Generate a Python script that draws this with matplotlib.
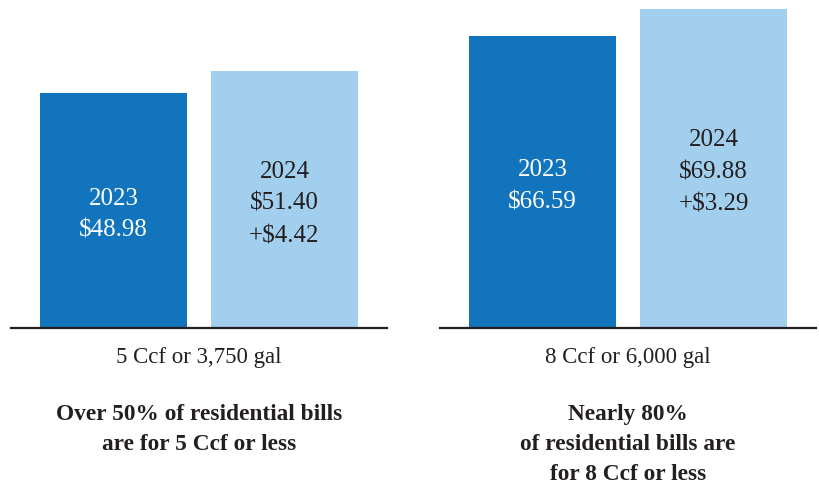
import matplotlib
matplotlib.use("Agg")
import matplotlib.pyplot as plt

# ---- data ----
years = ["2023", "2024"]
usage_labels = ["5 Ccf or 3,750 gal", "8 Ccf or 6,000 gal"]
bills_5ccf = [48.98, 51.40]
bills_8ccf = [66.59, 69.88]
increase = ["+$4.42", "+$3.29"]
notes = ["Over 50% of residential bills\nare for 5 Ccf or less",
         "Nearly 80%\nof residential bills are\nfor 8 Ccf or less"]

DARK = "#1174bc"
LIGHT = "#a3cfef"
INK = "#231f20"
FONT = ["Liberation Serif", "DejaVu Serif"]

W, H = 820, 484
fig = plt.figure(figsize=(W / 100, H / 100), dpi=100)

def px_axes(x0, x1, ytop, ybot):
    return fig.add_axes([x0 / W, 1 - ybot / H, (x1 - x0) / W, (ybot - ytop) / H])

groups = [
    (bills_5ccf, increase[0], (11, 387), (23.16, 59.21), usage_labels[0], notes[0]),
    (bills_8ccf, increase[1], (440, 816), (31.02, 70.93), usage_labels[1], notes[1]),
]

for vals, inc, (x0, x1), ylim, ulabel, note in groups:
    ax = px_axes(x0, x1, 0, 327.7)
    ax.set_xlim(-0.6, 1.6)
    ax.set_ylim(*ylim)
    ax.bar([0, 1], vals, width=0.86, color=[DARK, LIGHT], bottom=0)
    for s in ["top", "left", "right"]:
        ax.spines[s].set_visible(False)
    ax.spines["bottom"].set_color(INK)
    ax.spines["bottom"].set_linewidth(1.6)
    ax.spines["bottom"].set_zorder(5)
    ax.set_xticks([])
    ax.set_yticks([])
    ax.patch.set_visible(False)
    # pixel-to-data factor for small downward nudge of labels
    k = (ylim[1] - ylim[0]) / 327.7
    mid0 = (ylim[0] + vals[0]) / 2 - 4.5 * k
    mid1 = (ylim[0] + vals[1]) / 2 - 4.5 * k
    ax.text(0, mid0, f"{years[0]}\n${vals[0]:.2f}", ha="center", va="center",
            color="white", fontsize=18, family=FONT, linespacing=1.6)
    ax.text(1, mid1, f"{years[1]}\n${vals[1]:.2f}\n{inc}", ha="center", va="center",
            color=INK, fontsize=18, family=FONT, linespacing=1.6)
    cx = (x0 + x1) / 2 / W
    fig.text(cx, 1 - 357 / H, ulabel, ha="center", va="center", color=INK,
             fontsize=16.5, family=FONT)
    fig.text(cx, 1 - 404 / H, note, ha="center", va="top", color=INK,
             fontsize=16.8, family=FONT, fontweight="bold", linespacing=1.55)

fig.savefig("out.png", dpi=100)
